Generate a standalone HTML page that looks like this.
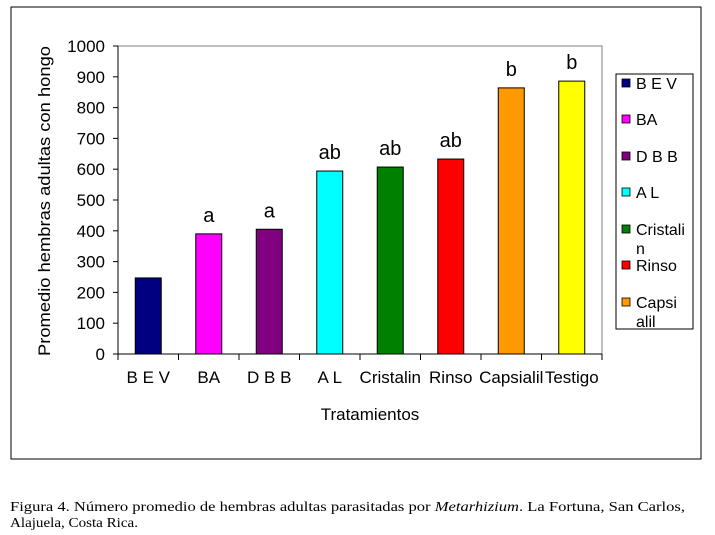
<!DOCTYPE html>
<html><head><meta charset="utf-8">
<style>
html,body{margin:0;padding:0;background:#fff;}
svg{display:block;font-family:"Liberation Sans",Arial,sans-serif;}
</style></head>
<body>
<svg id="chart" width="715" height="535" viewBox="0 0 715 535" xmlns="http://www.w3.org/2000/svg">
  <rect x="11" y="7" width="690" height="452" fill="#fff" stroke="#000" stroke-width="1"/>
  <g id="plot"></g>
  <g id="yaxis"></g>
  <g id="xaxis"></g>
  <text transform="translate(50,201) rotate(-90)" text-anchor="middle" font-size="17" textLength="310" lengthAdjust="spacingAndGlyphs">Promedio hembras adultas con hongo</text>
  <text x="370" y="420" text-anchor="middle" font-size="17">Tratamientos</text>
  <g id="legend">
    <rect x="616" y="74" width="77" height="255" fill="#fff" stroke="#000" stroke-width="1"/>
  </g>
  <text x="10" y="511" font-family="'Liberation Serif',serif" font-size="14" textLength="675" lengthAdjust="spacingAndGlyphs">Figura 4. Número promedio de hembras adultas  parasitadas por <tspan font-style="italic">Metarhizium</tspan>. La Fortuna, San Carlos,</text>
  <text x="10" y="527" font-family="'Liberation Serif',serif" font-size="14" textLength="128" lengthAdjust="spacingAndGlyphs">Alajuela, Costa Rica.</text>
</svg>
<script>
const categories = ["B E V","BA","D B B","A L","Cristalin","Rinso","Capsialil","Testigo"];
const values = [247, 390, 405, 594, 607, 633, 864, 886];
const letters = ["", "a", "a", "ab", "ab", "ab", "b", "b"];
const colors = ["#000080","#ff00ff","#800080","#00ffff","#008000","#ff0000","#ff9900","#ffff00"];
const yTicks = [0,100,200,300,400,500,600,700,800,900,1000];
const legendLabels = [["B E V"],["BA"],["D B B"],["A L"],["Cristali","n"],["Rinso"],["Capsi","alil"]];

const NS = "http://www.w3.org/2000/svg";
const L = 118, R = 602, T = 46, B = 354, yMax = 1000;
const band = (R - L) / categories.length;
const y = v => B - (v / yMax) * (B - T);
const xc = i => L + band * (i + 0.5);
function mk(tag, attrs, parent){const e=document.createElementNS(NS,tag);for(const k in attrs)e.setAttribute(k,attrs[k]);parent.appendChild(e);return e;}

const plot = document.getElementById('plot');
const yaxis = document.getElementById('yaxis');
const xaxis = document.getElementById('xaxis');
const legend = document.getElementById('legend');

let pb = mk('polyline',{points:`${L},${T} ${R},${T} ${R},${B}`,fill:'none',stroke:'#808080','stroke-width':1},plot);



categories.forEach((c,i)=>{
  const bw = 26;
  const r = mk('rect',{x:xc(i)-bw/2,y:y(values[i]),width:bw,height:B-y(values[i]),fill:colors[i],stroke:'#000','stroke-width':1},plot);
  
  
  if(letters[i]){
    const t = mk('text',{x:xc(i),y:y(values[i])-12,'text-anchor':'middle','font-size':20},plot);
    t.textContent = letters[i];
    
    
  }
  const xl = mk('text',{x:xc(i),y:383,'text-anchor':'middle','font-size':17},xaxis);
  xl.textContent = c;
  
  
});
for(let i=0;i<=categories.length;i++){
  const tk = mk('line',{x1:L+band*i,x2:L+band*i,y1:B,y2:B+6,stroke:'#000'},xaxis);
  
  
}
const xl0 = mk('line',{x1:L,x2:R,y1:B,y2:B,stroke:'#000'},xaxis);


const yl0 = mk('line',{x1:L,x2:L,y1:T,y2:B+6,stroke:'#000'},yaxis);


yTicks.forEach(v=>{
  const tk = mk('line',{x1:L-5,x2:L,y1:y(v),y2:y(v),stroke:'#000'},yaxis);
  
  
  const t = mk('text',{x:L-13,y:y(v)+6,'text-anchor':'end','font-size':17},yaxis);
  t.textContent = v;
  
  
});
const ly = [83,119,156,192,229,265,302];
legendLabels.forEach((lab,i)=>{
  const sw = mk('rect',{x:622,y:ly[i]-4,width:8,height:8,fill:colors[i],stroke:'#000','stroke-width':0.8},legend);
  
  
  lab.forEach((s,j)=>{
    const t = mk('text',{x:636,y:ly[i]+6+j*19,'font-size':16},legend);
    t.textContent = s;
    
    
  });
});
</script>
</body></html>
